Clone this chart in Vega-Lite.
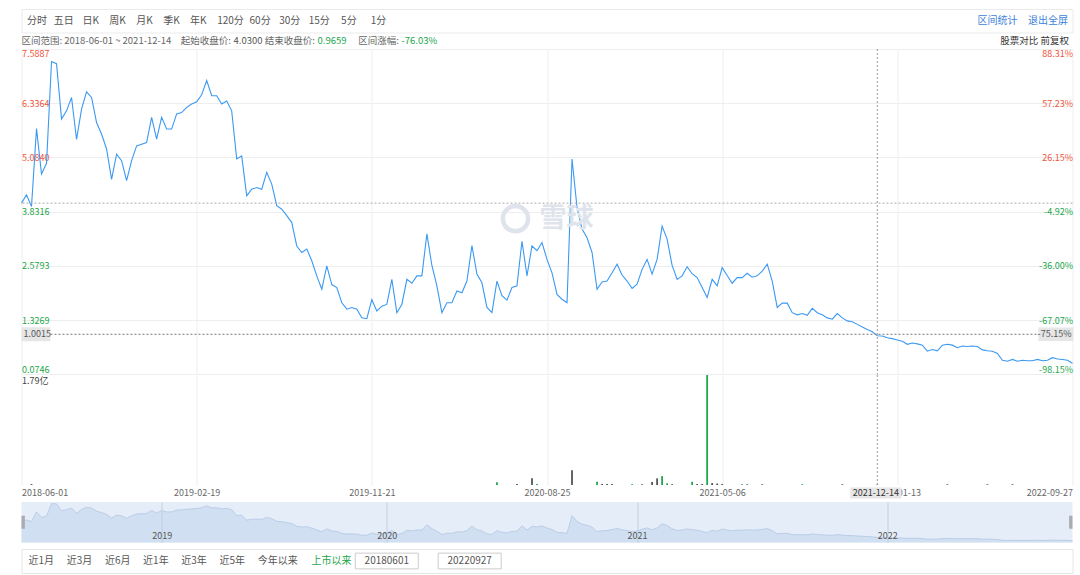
{
"$schema": "https://vega.github.io/schema/vega-lite/v6.json",
"background": "#ffffff",
"padding": {"left": 18.5, "top": 8, "right": 9.5, "bottom": 5},
"bounds": "flush",
"spacing": 0,
"config": {
  "font": "Noto Sans CJK SC",
  "view": {"stroke": null},
  "axis": {"labelFont": "Noto Sans CJK SC", "title": null},
  "text": {"font": "Noto Sans CJK SC"}
},
"datasets": {
  "top": [
    {"group": "period", "item": "分时"}, {"group": "period", "item": "五日"}, {"group": "period", "item": "日K"},
    {"group": "period", "item": "周K"}, {"group": "period", "item": "月K"}, {"group": "period", "item": "季K"},
    {"group": "period", "item": "年K"}, {"group": "minute", "item": "120分"}, {"group": "minute", "item": "60分"},
    {"group": "minute", "item": "30分"}, {"group": "minute", "item": "15分"}, {"group": "minute", "item": "5分"},
    {"group": "minute", "item": "1分"}, {"group": "link", "item": "区间统计"}, {"group": "link", "item": "退出全屏"}
  ],
  "info": [
    {"slot": "s1", "label": "区间范围: 2018-06-01 ~ 2021-12-14", "value": "", "tone": "flat"},
    {"slot": "s3", "label": "起始收盘价:", "value": "4.0300", "tone": "flat"},
    {"slot": "s4", "label": "结束收盘价:", "value": "0.9659", "tone": "down"},
    {"slot": "s5", "label": "区间涨幅:", "value": "-76.03%", "tone": "down"},
    {"slot": "r", "label": "股票对比 前复权", "value": "", "tone": "flat"}
  ],
  "bot": [
    {"slot": "p1", "label": "近1月", "kind": "range"}, {"slot": "p2", "label": "近3月", "kind": "range"},
    {"slot": "p3", "label": "近6月", "kind": "range"}, {"slot": "p4", "label": "近1年", "kind": "range"},
    {"slot": "p5", "label": "近3年", "kind": "range"}, {"slot": "p6", "label": "近5年", "kind": "range"},
    {"slot": "p7", "label": "今年以来", "kind": "range"}, {"slot": "b0", "label": "上市以来", "kind": "active"},
    {"slot": "b2", "label": "20180601", "kind": "input"}, {"slot": "b5", "label": "20220927", "kind": "input"}
  ],
  "px": [
    {"date":"2018-06-01","close":4.03},
    {"date":"2018-06-08","close":4.22},
    {"date":"2018-06-15","close":3.95,"vol":0.016,"dir":"up"},
    {"date":"2018-06-22","close":5.75},
    {"date":"2018-06-29","close":4.7},
    {"date":"2018-07-06","close":4.95},
    {"date":"2018-07-13","close":7.3},
    {"date":"2018-07-20","close":7.25},
    {"date":"2018-07-27","close":5.97},
    {"date":"2018-08-03","close":6.16},
    {"date":"2018-08-10","close":6.47},
    {"date":"2018-08-17","close":5.5},
    {"date":"2018-08-24","close":6.2},
    {"date":"2018-08-31","close":6.6},
    {"date":"2018-09-07","close":6.47},
    {"date":"2018-09-14","close":5.89},
    {"date":"2018-09-21","close":5.62},
    {"date":"2018-09-28","close":5.28},
    {"date":"2018-10-12","close":4.58},
    {"date":"2018-10-19","close":5.16},
    {"date":"2018-10-26","close":5.01},
    {"date":"2018-11-02","close":4.55},
    {"date":"2018-11-09","close":5.01},
    {"date":"2018-11-16","close":5.35},
    {"date":"2018-11-23","close":5.39},
    {"date":"2018-11-30","close":5.43},
    {"date":"2018-12-07","close":6.01},
    {"date":"2018-12-17","close":5.51},
    {"date":"2019-01-02","close":6.01},
    {"date":"2019-01-09","close":5.74},
    {"date":"2019-01-16","close":5.74},
    {"date":"2019-01-23","close":6.09},
    {"date":"2019-01-30","close":6.12},
    {"date":"2019-02-01","close":6.24},
    {"date":"2019-02-12","close":6.32},
    {"date":"2019-02-19","close":6.37},
    {"date":"2019-02-26","close":6.53},
    {"date":"2019-03-05","close":6.86},
    {"date":"2019-03-12","close":6.51},
    {"date":"2019-03-19","close":6.51},
    {"date":"2019-03-26","close":6.32},
    {"date":"2019-04-02","close":6.39},
    {"date":"2019-04-09","close":6.16},
    {"date":"2019-04-16","close":5.05},
    {"date":"2019-04-23","close":5.12},
    {"date":"2019-04-30","close":4.2},
    {"date":"2019-05-07","close":4.35},
    {"date":"2019-05-14","close":4.39},
    {"date":"2019-05-21","close":4.35},
    {"date":"2019-05-28","close":4.74},
    {"date":"2019-06-04","close":4.47},
    {"date":"2019-06-11","close":3.97},
    {"date":"2019-06-18","close":3.89},
    {"date":"2019-06-25","close":3.74},
    {"date":"2019-07-02","close":3.58},
    {"date":"2019-07-09","close":3.04},
    {"date":"2019-07-16","close":2.89},
    {"date":"2019-07-23","close":2.97},
    {"date":"2019-07-30","close":2.7},
    {"date":"2019-08-06","close":2.35},
    {"date":"2019-08-13","close":2.04},
    {"date":"2019-08-20","close":2.58},
    {"date":"2019-08-27","close":2.15},
    {"date":"2019-09-03","close":2.08},
    {"date":"2019-09-10","close":1.73},
    {"date":"2019-09-17","close":1.58},
    {"date":"2019-09-24","close":1.62},
    {"date":"2019-10-15","close":1.58},
    {"date":"2019-10-29","close":1.38},
    {"date":"2019-11-12","close":1.36},
    {"date":"2019-11-21","close":1.8},
    {"date":"2019-12-03","close":1.54},
    {"date":"2019-12-17","close":1.65},
    {"date":"2020-01-02","close":1.69},
    {"date":"2020-01-09","close":2.27},
    {"date":"2020-01-16","close":1.5},
    {"date":"2020-01-23","close":1.69},
    {"date":"2020-02-07","close":2.27},
    {"date":"2020-02-14","close":2.18},
    {"date":"2020-02-21","close":2.35},
    {"date":"2020-02-28","close":2.35},
    {"date":"2020-03-06","close":3.32},
    {"date":"2020-03-13","close":2.59},
    {"date":"2020-03-20","close":2.12},
    {"date":"2020-03-27","close":1.5},
    {"date":"2020-04-03","close":1.73},
    {"date":"2020-04-10","close":1.73},
    {"date":"2020-04-17","close":2.0},
    {"date":"2020-04-24","close":1.96},
    {"date":"2020-05-08","close":2.23},
    {"date":"2020-05-15","close":3.05},
    {"date":"2020-05-22","close":2.39},
    {"date":"2020-05-29","close":2.19},
    {"date":"2020-06-05","close":1.62},
    {"date":"2020-06-12","close":1.5},
    {"date":"2020-06-19","close":2.23,"vol":0.044,"dir":"down"},
    {"date":"2020-06-24","close":1.89},
    {"date":"2020-07-03","close":1.79},
    {"date":"2020-07-10","close":2.08},
    {"date":"2020-07-17","close":2.12,"vol":0.016,"dir":"up"},
    {"date":"2020-07-24","close":3.15},
    {"date":"2020-07-31","close":2.35},
    {"date":"2020-08-07","close":3.04,"vol":0.108,"dir":"up"},
    {"date":"2020-08-14","close":2.93,"vol":0.016,"dir":"down"},
    {"date":"2020-08-19","close":3.12},
    {"date":"2020-08-25","close":2.73},
    {"date":"2020-09-01","close":2.42},
    {"date":"2020-09-08","close":1.92},
    {"date":"2020-09-15","close":1.81},
    {"date":"2020-09-22","close":1.73},
    {"date":"2020-09-29","close":5.05,"vol":0.24,"dir":"up"},
    {"date":"2020-10-13","close":3.93},
    {"date":"2020-10-20","close":3.43},
    {"date":"2020-10-27","close":3.23},
    {"date":"2020-11-03","close":2.89},
    {"date":"2020-11-10","close":2.04,"vol":0.053,"dir":"down"},
    {"date":"2020-11-17","close":2.21,"vol":0.016,"dir":"up"},
    {"date":"2020-11-24","close":2.23,"vol":0.016,"dir":"up"},
    {"date":"2020-12-01","close":2.42,"vol":0.016,"dir":"up"},
    {"date":"2020-12-08","close":2.62},
    {"date":"2020-12-15","close":2.37},
    {"date":"2020-12-22","close":2.23},
    {"date":"2020-12-29","close":2.06,"vol":0.012,"dir":"down"},
    {"date":"2021-01-05","close":2.16},
    {"date":"2021-01-12","close":2.5,"vol":0.012,"dir":"up"},
    {"date":"2021-01-19","close":2.73},
    {"date":"2021-01-26","close":2.39,"vol":0.048,"dir":"up"},
    {"date":"2021-02-02","close":2.73,"vol":0.108,"dir":"up"},
    {"date":"2021-02-09","close":3.5,"vol":0.145,"dir":"down"},
    {"date":"2021-02-23","close":3.2,"vol":0.027,"dir":"down"},
    {"date":"2021-03-02","close":2.59,"vol":0.014,"dir":"up"},
    {"date":"2021-03-09","close":2.27},
    {"date":"2021-03-16","close":2.35},
    {"date":"2021-03-23","close":2.56},
    {"date":"2021-03-30","close":2.4,"vol":0.053,"dir":"down"},
    {"date":"2021-04-06","close":2.31,"vol":0.016,"dir":"up"},
    {"date":"2021-04-13","close":2.08,"vol":0.016,"dir":"up"},
    {"date":"2021-04-20","close":1.85,"vol":1.79,"dir":"down"},
    {"date":"2021-04-27","close":2.27,"vol":0.032,"dir":"up"},
    {"date":"2021-04-30","close":2.12,"vol":0.024,"dir":"up"},
    {"date":"2021-05-06","close":2.54,"vol":0.016,"dir":"up"},
    {"date":"2021-05-13","close":2.36},
    {"date":"2021-05-20","close":2.18},
    {"date":"2021-05-27","close":2.31},
    {"date":"2021-06-03","close":2.31,"vol":0.012,"dir":"down"},
    {"date":"2021-06-10","close":2.41,"vol":0.012,"dir":"up"},
    {"date":"2021-06-17","close":2.32},
    {"date":"2021-06-24","close":2.35},
    {"date":"2021-07-01","close":2.46,"vol":0.012,"dir":"up"},
    {"date":"2021-07-08","close":2.62},
    {"date":"2021-07-15","close":2.23},
    {"date":"2021-07-22","close":1.62},
    {"date":"2021-07-29","close":1.72},
    {"date":"2021-08-05","close":1.72},
    {"date":"2021-08-12","close":1.5},
    {"date":"2021-08-19","close":1.45},
    {"date":"2021-08-26","close":1.48,"vol":0.012,"dir":"down"},
    {"date":"2021-09-02","close":1.44},
    {"date":"2021-09-09","close":1.6},
    {"date":"2021-09-16","close":1.5},
    {"date":"2021-09-23","close":1.45},
    {"date":"2021-09-30","close":1.38},
    {"date":"2021-10-14","close":1.35},
    {"date":"2021-10-21","close":1.48},
    {"date":"2021-10-28","close":1.38,"vol":0.012,"dir":"up"},
    {"date":"2021-11-04","close":1.31},
    {"date":"2021-11-11","close":1.29},
    {"date":"2021-11-18","close":1.23},
    {"date":"2021-11-25","close":1.17},
    {"date":"2021-12-02","close":1.11},
    {"date":"2021-12-09","close":1.06},
    {"date":"2021-12-14","close":0.9659,"vol":0.012,"dir":"down"},
    {"date":"2021-12-22","close":0.96},
    {"date":"2022-01-04","close":0.92},
    {"date":"2022-01-10","close":0.9},
    {"date":"2022-01-13","close":0.87},
    {"date":"2022-01-20","close":0.84},
    {"date":"2022-01-27","close":0.77},
    {"date":"2022-02-10","close":0.8},
    {"date":"2022-02-17","close":0.78},
    {"date":"2022-02-24","close":0.75},
    {"date":"2022-03-03","close":0.61},
    {"date":"2022-03-10","close":0.65},
    {"date":"2022-03-17","close":0.62},
    {"date":"2022-03-24","close":0.75},
    {"date":"2022-03-31","close":0.77,"vol":0.012,"dir":"up"},
    {"date":"2022-04-08","close":0.75},
    {"date":"2022-04-15","close":0.69},
    {"date":"2022-04-22","close":0.73},
    {"date":"2022-04-29","close":0.72},
    {"date":"2022-05-06","close":0.73},
    {"date":"2022-05-13","close":0.72},
    {"date":"2022-05-20","close":0.64},
    {"date":"2022-05-27","close":0.62,"vol":0.012,"dir":"up"},
    {"date":"2022-06-02","close":0.61},
    {"date":"2022-06-10","close":0.56},
    {"date":"2022-06-17","close":0.4},
    {"date":"2022-06-24","close":0.38},
    {"date":"2022-07-01","close":0.42,"vol":0.012,"dir":"up"},
    {"date":"2022-07-08","close":0.38},
    {"date":"2022-07-15","close":0.4},
    {"date":"2022-07-22","close":0.39},
    {"date":"2022-07-29","close":0.39},
    {"date":"2022-08-05","close":0.42},
    {"date":"2022-08-12","close":0.39},
    {"date":"2022-08-19","close":0.4},
    {"date":"2022-08-26","close":0.46},
    {"date":"2022-09-02","close":0.43},
    {"date":"2022-09-09","close":0.42},
    {"date":"2022-09-16","close":0.4},
    {"date":"2022-09-27","close":0.33}
  ]
},
"vconcat": [
 {
  "width": 1051, "height": 23.5,
  "view": {"stroke": "#ebebeb", "fill": "#ffffff"},
  "data": {"name": "top"},
  "resolve": {"scale": {"x": "independent"}},
  "layer": [
   {"transform": [{"filter": "datum.group === 'period'"}],
    "mark": {"type": "text", "fontSize": 10, "color": "#555555", "baseline": "middle", "align": "center"},
    "encoding": {"x": {"field": "item", "type": "nominal", "sort": null, "scale": {"type": "point", "padding": 0, "range": [15.4, 176.8]}, "axis": null}, "text": {"field": "item"}}},
   {"transform": [{"filter": "datum.group === 'minute'"}],
    "mark": {"type": "text", "fontSize": 10, "color": "#555555", "baseline": "middle", "align": "center"},
    "encoding": {"x": {"field": "item", "type": "nominal", "sort": null, "scale": {"type": "point", "padding": 0, "range": [209, 357]}, "axis": null}, "text": {"field": "item"}}},
   {"transform": [{"filter": "datum.group === 'link'"}],
    "mark": {"type": "text", "fontSize": 10, "color": "#3d7fd9", "baseline": "middle", "align": "center"},
    "encoding": {"x": {"field": "item", "type": "nominal", "sort": null, "scale": {"type": "point", "padding": 0, "range": [976, 1026.6]}, "axis": null}, "text": {"field": "item"}}}
  ]
 },
 {
  "width": 1051, "height": 16,
  "data": {"name": "info"},
  "resolve": {"scale": {"x": "independent"}},
  "layer": [
   {"transform": [{"filter": "datum.slot === 's1'"}],
    "mark": {"type": "text", "align": "left", "baseline": "middle", "fontSize": 9.5, "color": "#666666"},
    "encoding": {"x": {"field": "slot", "type": "nominal", "scale": {"type": "point", "padding": 0, "range": [0, 0]}, "axis": null}, "text": {"field": "label"}}},
   {"transform": [{"filter": "datum.slot !== 'r' && datum.slot !== 's1'"}],
    "mark": {"type": "text", "align": "right", "baseline": "middle", "fontSize": 9.5, "color": "#666666", "dx": -2.5},
    "encoding": {"x": {"field": "slot", "type": "nominal", "scale": {"type": "point", "domain": ["s3","s4","s5"], "padding": 0, "range": [212, 380]}, "axis": null}, "text": {"field": "label"}}},
   {"transform": [{"filter": "datum.slot !== 'r' && datum.slot !== 's1'"}],
    "mark": {"type": "text", "align": "left", "baseline": "middle", "fontSize": 9.5},
    "encoding": {"x": {"field": "slot", "type": "nominal", "scale": {"type": "point", "domain": ["s3","s4","s5"], "padding": 0, "range": [212, 380]}, "axis": null}, "text": {"field": "value"},
      "color": {"field": "tone", "type": "nominal", "scale": {"domain": ["flat","down"], "range": ["#555555","#22a64b"]}, "legend": null}}},
   {"transform": [{"filter": "datum.slot === 'r'"}],
    "mark": {"type": "text", "align": "right", "baseline": "middle", "fontSize": 9.5, "color": "#333333"},
    "encoding": {"x": {"field": "slot", "type": "nominal", "scale": {"type": "point", "padding": 0, "range": [1047.5, 1047.5]}, "axis": null}, "text": {"field": "label"}}}
  ]
 },
 {
  "width": 1051, "height": 325.4,
  "data": {"name": "px"},
  "resolve": {"axis": {"y": "independent"}},
  "layer": [
   {"mark": {"type": "line", "color": "#3a99f3", "strokeWidth": 1.1},
    "encoding": {
      "x": {"field": "date", "type": "ordinal", "scale": {"type": "point", "padding": 0},
            "axis": {"values": ["2018-06-01","2019-02-19","2019-11-21","2020-08-25","2021-05-06","2022-01-13","2022-09-27"], "labels": false, "ticks": false, "domain": false, "grid": true, "gridColor": "#eeeeee", "title": null}},
      "y": {"field": "close", "type": "quantitative", "scale": {"domain": [0.0746, 7.5887], "nice": false, "zero": false},
            "axis": {"orient": "left", "values": [7.5887, 6.3364, 5.084, 3.8316, 2.5793, 1.3269, 0.0746], "labelExpr": "format(datum.value, '.4f')",
                     "labelAlign": "left", "labelPadding": 0, "ticks": false, "tickSize": 0, "domain": false, "grid": true, "gridColor": "#eeeeee",
                     "labelFlush": true, "labelFontSize": 9,
                     "labelColor": {"condition": {"test": "datum.value > 4.03", "value": "#ef5440"}, "value": "#22a64b"}, "title": null}}
    }},
   {"transform": [{"filter": "datum.date === '2018-06-01'"}],
    "mark": {"type": "rule", "color": "#aaaaaa", "strokeDash": [2, 2], "strokeWidth": 1},
    "encoding": {
      "y": {"datum": 4.03, "type": "quantitative", "scale": {"domain": [0.0746, 7.5887], "nice": false, "zero": false},
            "axis": {"orient": "right", "values": [7.5887, 6.3364, 5.084, 3.8316, 2.5793, 1.3269, 0.0746],
                     "labelExpr": "replace(format(datum.value / 4.03 * 100 - 100, '.2f'), '−', '-') + '%'",
                     "labelAlign": "right", "labelPadding": 0, "ticks": false, "tickSize": 0, "domain": false, "grid": false,
                     "labelFlush": true, "labelFontSize": 9,
                     "labelColor": {"condition": {"test": "datum.value > 4.03", "value": "#ef5440"}, "value": "#22a64b"}, "title": null}}
    }},
   {"transform": [{"filter": "datum.date === '2021-12-14'"}],
    "mark": {"type": "rule", "color": "#777777", "strokeDash": [2, 2], "strokeWidth": 1},
    "encoding": {"y": {"datum": 1.0015, "type": "quantitative", "axis": null}}},
   {"transform": [{"filter": "datum.date === '2021-12-14'"}],
    "mark": {"type": "rule", "color": "#999999", "strokeDash": [2, 2], "strokeWidth": 1},
    "encoding": {"x": {"field": "date", "type": "ordinal"}}},
   {"data": {"values": [{"brand": "雪球"}]},
    "mark": {"type": "text", "fontSize": 27, "fontWeight": "bold", "color": "#dfe4ec", "dx": 19.5, "dy": 7.5, "align": "center", "baseline": "middle"},
    "encoding": {"text": {"field": "brand"}}},
   {"data": {"values": [{"brand": "雪球"}]},
    "mark": {"type": "point", "shape": "circle", "filled": false, "size": 640, "strokeWidth": 4.5, "color": "#dfe4ec", "opacity": 1, "xOffset": -31.5, "yOffset": 7},
    "encoding": {}},
   {"transform": [{"filter": "datum.date === '2018-06-01'"}],
    "mark": {"type": "point", "shape": "M-1,-0.48H1V0.48H-1Z", "size": 841, "filled": true, "color": "#e6e6e6", "opacity": 1, "xOffset": 14.5},
    "encoding": {"x": {"field": "date", "type": "ordinal"}, "y": {"datum": 1.0015, "type": "quantitative", "axis": null}}},
   {"transform": [{"filter": "datum.date === '2018-06-01'"}],
    "mark": {"type": "text", "align": "left", "baseline": "middle", "fontSize": 9, "color": "#555555", "dx": 2},
    "encoding": {"x": {"field": "date", "type": "ordinal"}, "y": {"datum": 1.0015, "type": "quantitative", "axis": null}, "text": {"value": "1.0015"}}},
   {"transform": [{"filter": "datum.date === '2022-09-27'"}],
    "mark": {"type": "point", "shape": "M-1,-0.38H1V0.38H-1Z", "size": 1225, "filled": true, "color": "#e6e6e6", "opacity": 1, "xOffset": -16.6},
    "encoding": {"x": {"field": "date", "type": "ordinal"}, "y": {"datum": 1.0015, "type": "quantitative", "axis": null}}},
   {"transform": [{"filter": "datum.date === '2022-09-27'"}],
    "mark": {"type": "text", "align": "right", "baseline": "middle", "fontSize": 9, "color": "#555555", "dx": -1},
    "encoding": {"x": {"field": "date", "type": "ordinal"}, "y": {"datum": 1.0015, "type": "quantitative", "axis": null}, "text": {"value": "-75.15%"}}}
  ]
 },
 {
  "width": 1051, "height": 110,
  "data": {"name": "px"},
  "layer": [
   {"mark": {"type": "point", "opacity": 0},
    "encoding": {
      "x": {"field": "date", "type": "ordinal", "scale": {"type": "point", "padding": 0},
            "axis": {"values": ["2018-06-01","2019-02-19","2019-11-21","2020-08-25","2021-05-06","2022-01-13","2022-09-27"],
                     "labelAngle": 0, "labelFlush": true, "ticks": false, "tickSize": 0, "domain": false, "grid": true, "gridColor": "#eeeeee",
                     "labelColor": "#666666", "labelFontSize": 9, "labelPadding": 3.5, "labelBaseline": "top", "title": null}}
    }},
   {"transform": [{"filter": "datum.vol > 0"}],
    "mark": {"type": "bar", "width": 1.8, "opacity": 1},
    "encoding": {
      "x": {"field": "date", "type": "ordinal"},
      "y": {"field": "vol", "type": "quantitative", "scale": {"domain": [0, 1.79], "nice": false},
            "axis": {"orient": "left", "values": [1.79], "labelExpr": "'1.79亿'", "labelAlign": "left", "labelBaseline": "top", "labelOffset": 1,
                     "labelPadding": 0, "ticks": false, "tickSize": 0, "domain": false, "grid": false, "labelColor": "#444444", "labelFontSize": 9, "title": null}},
      "y2": {"datum": 0},
      "color": {"field": "dir", "type": "nominal", "scale": {"domain": ["up","down"], "range": ["#f5533d","#2fb04f"]}, "legend": null}
    }},
   {"transform": [{"filter": "datum.date === '2021-12-14'"}],
    "mark": {"type": "rule", "color": "#999999", "strokeDash": [2, 2], "strokeWidth": 1},
    "encoding": {"x": {"field": "date", "type": "ordinal"}}},
   {"transform": [{"filter": "datum.date === '2021-12-14'"}],
    "mark": {"type": "point", "shape": "M-1,-0.215H1V0.215H-1Z", "size": 2601, "filled": true, "color": "#e6e6e6", "opacity": 1, "yOffset": 8.1, "xOffset": -1.5},
    "encoding": {"x": {"field": "date", "type": "ordinal"}, "y": {"datum": 0, "type": "quantitative"}}},
   {"transform": [{"filter": "datum.date === '2021-12-14'"}],
    "mark": {"type": "text", "align": "center", "baseline": "middle", "fontSize": 9, "color": "#333333", "dy": 8.1, "dx": -1.5},
    "encoding": {"x": {"field": "date", "type": "ordinal"}, "y": {"datum": 0, "type": "quantitative"}, "text": {"field": "date"}}}
  ]
 },
 {
  "width": 1051, "height": 16.5,
  "data": {"values": []},
  "mark": {"type": "text"},
  "encoding": {}
 },
 {
  "width": 1051, "height": 40.5,
  "view": {"fill": "#e5edf8", "stroke": null},
  "data": {"name": "px"},
  "layer": [
   {"mark": {"type": "area", "color": "#c8d8ee", "line": {"color": "#b4c7e3", "strokeWidth": 0.8}},
    "encoding": {
      "x": {"field": "date", "type": "ordinal", "scale": {"type": "point", "padding": 0},
            "axis": {"values": ["2019-01-02","2020-01-02","2021-01-05","2022-01-04"], "labelExpr": "substring(datum.label, 0, 4)",
                     "labelAngle": 0, "ticks": false, "tickSize": 0, "domain": false, "grid": true, "gridColor": "#c3cfe0", "zindex": 1,
                     "labelColor": "#555555", "labelFontSize": 9, "labelPadding": -2, "labelBaseline": "bottom", "title": null}},
      "y": {"field": "close", "type": "quantitative", "scale": {"domain": [0, 7.6], "nice": false, "zero": false}, "axis": null}
    }},
   {"transform": [{"filter": "datum.date === '2018-06-01'"}],
    "mark": {"type": "point", "shape": "M-0.13,-0.5H0.13V0.5H-0.13Z", "size": 676, "filled": true, "color": "#a9adb3", "opacity": 1, "xOffset": 1.7},
    "encoding": {"x": {"field": "date", "type": "ordinal"}}},
   {"transform": [{"filter": "datum.date === '2022-09-27'"}],
    "mark": {"type": "point", "shape": "M-0.13,-0.5H0.13V0.5H-0.13Z", "size": 676, "filled": true, "color": "#a9adb3", "opacity": 1, "xOffset": -1.7},
    "encoding": {"x": {"field": "date", "type": "ordinal"}}}
  ]
 },
 {
  "width": 1051, "height": 5.5,
  "data": {"values": []},
  "mark": {"type": "text"},
  "encoding": {}
 },
 {
  "width": 1051, "height": 24,
  "view": {"stroke": "#e6e6e6", "fill": "#ffffff"},
  "data": {"name": "bot"},
  "resolve": {"scale": {"x": "independent"}},
  "layer": [
   {"transform": [{"filter": "datum.kind === 'range'"}],
    "mark": {"type": "text", "align": "left", "baseline": "middle", "fontSize": 10, "color": "#555555"},
    "encoding": {"x": {"field": "slot", "type": "nominal", "scale": {"type": "point", "domain": ["p1","p2","p3","p4","p5","p6","p7"], "padding": 0, "range": [7, 236.2]}, "axis": null}, "text": {"field": "label"}}},
   {"transform": [{"filter": "datum.kind === 'input'"}],
    "mark": {"type": "point", "shape": "M-1,-0.25H1V0.25H-1Z", "size": 3969, "filled": true, "fill": "#ffffff", "stroke": "#cccccc", "strokeWidth": 1, "opacity": 1},
    "encoding": {"x": {"field": "slot", "type": "nominal", "scale": {"type": "point", "domain": ["b0","b1","b2","b3","b4","b5"], "padding": 0, "range": [310, 448.2]}, "axis": null}}},
   {"transform": [{"filter": "datum.kind !== 'range'"}],
    "mark": {"type": "text", "align": "center", "baseline": "middle", "fontSize": 10},
    "encoding": {"x": {"field": "slot", "type": "nominal", "scale": {"type": "point", "domain": ["b0","b1","b2","b3","b4","b5"], "padding": 0, "range": [310, 448.2]}, "axis": null},
      "text": {"field": "label"},
      "color": {"field": "kind", "type": "nominal", "scale": {"domain": ["active","input"], "range": ["#2f7ed8","#333333"]}, "legend": null}}}
  ]
 }
]
}
